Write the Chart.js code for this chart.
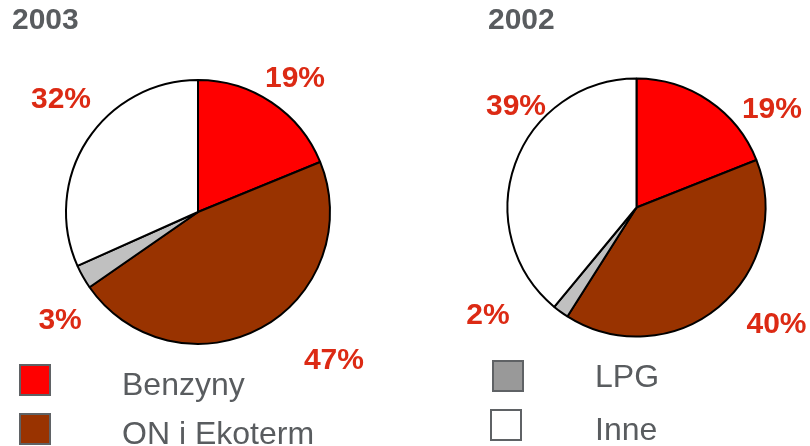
<!DOCTYPE html>
<html>
<head>
<meta charset="utf-8">
<script src="https://cdn.jsdelivr.net/npm/chart.js@4.4.0/dist/chart.umd.min.js"></script>
<style>
  body { margin: 0; background: #fff; }
  #wrap { position: relative; width: 810px; height: 446px; overflow: hidden; font-family: "Liberation Sans", Arial, sans-serif; }
  canvas { position: absolute; top: 0; }
  .title { position: absolute; font-size: 30px; line-height: 30px; font-weight: bold; color: #595c5f; }
  .box { position: absolute; width: 28px; height: 28px; border: 2px solid #5f6265; }
  .ltxt { position: absolute; font-size: 32px; line-height: 32px; color: #595c5f; }
</style>
</head>
<body>
<div id="wrap">
  <canvas id="pie2003" width="405" height="446" style="left:0"></canvas>
  <canvas id="pie2002" width="405" height="446" style="left:405px"></canvas>
  <div class="title" style="left:12px;top:4px">2003</div>
  <div class="title" style="left:488px;top:4px">2002</div>
  <div id="legend"></div>
</div>
<script>
const categories = ["Benzyny", "ON i Ekoterm", "LPG", "Inne"];
const values2003 = [19, 47, 3, 32];
const values2002 = [19, 40, 2, 39];

const sliceColors = ["#FF0000", "#993300", "#C0C0C0", "#FFFFFF"];
const legendColors = ["#FF0000", "#993300", "#999999", "#FFFFFF"];
const labelColor = "#DC2A14";

// label offsets in units of the pie radius, relative to the pie centre
const labelOffsets2003 = [[0.735, -1.03], [1.03, 1.106], [-1.045, 0.807], [-1.038, -0.871]];
const labelOffsets2002 = [[1.05, -0.775], [1.085, 0.888], [-1.151, 0.818], [-0.934, -0.798]];

const pctLabels = {
  id: "pctLabels",
  afterDatasetsDraw(chart, args, opts) {
    const ctx = chart.ctx;
    const meta = chart.getDatasetMeta(0);
    const values = chart.data.datasets[0].data;
    ctx.save();
    ctx.font = "bold 30px 'Liberation Sans', Arial, sans-serif";
    ctx.fillStyle = labelColor;
    ctx.textAlign = "center";
    ctx.textBaseline = "alphabetic";
    meta.data.forEach((arc, i) => {
      const r = arc.outerRadius;
      const off = opts.offsets[i];
      const x = arc.x + off[0] * r;
      const y = arc.y + off[1] * r;
      ctx.fillText(values[i] + "%", x, y + 30 * 0.358);
    });
    ctx.restore();
  },
};

function makePie(id, values, padding, offsets) {
  const ctx = document.getElementById(id).getContext("2d");
  return new Chart(ctx, {
    type: "pie",
    data: {
      labels: categories,
      datasets: [
        {
          data: values,
          backgroundColor: sliceColors,
          borderColor: "#000000",
          borderWidth: 2,
        },
      ],
    },
    options: {
      responsive: false,
      animation: false,
      layout: { padding: padding },
      plugins: {
        legend: { display: false },
        tooltip: { enabled: false },
        pctLabels: { offsets: offsets },
      },
    },
    plugins: [pctLabels],
  });
}

makePie("pie2003", values2003, { left: 65, right: 74, top: 79, bottom: 101 }, labelOffsets2003);
makePie("pie2002", values2002, { left: 101.5, right: 43.5, top: 77.5, bottom: 108.5 }, labelOffsets2002);

// legend split in two columns like the original slide
const legendPlaces = [
  { bx: 19, by: 364, tx: 122, ty: 368 },
  { bx: 19, by: 413, tx: 122, ty: 417 },
  { bx: 492, by: 360, tx: 595, ty: 360 },
  { bx: 490, by: 409, tx: 595, ty: 413 },
];
const legend = document.getElementById("legend");
categories.forEach((name, i) => {
  const p = legendPlaces[i];
  const box = document.createElement("div");
  box.className = "box";
  box.style.left = p.bx + "px";
  box.style.top = p.by + "px";
  box.style.background = legendColors[i];
  legend.appendChild(box);
  const txt = document.createElement("div");
  txt.className = "ltxt";
  txt.style.left = p.tx + "px";
  txt.style.top = p.ty + "px";
  txt.innerText = name;
  legend.appendChild(txt);
});
</script>
</body>
</html>
